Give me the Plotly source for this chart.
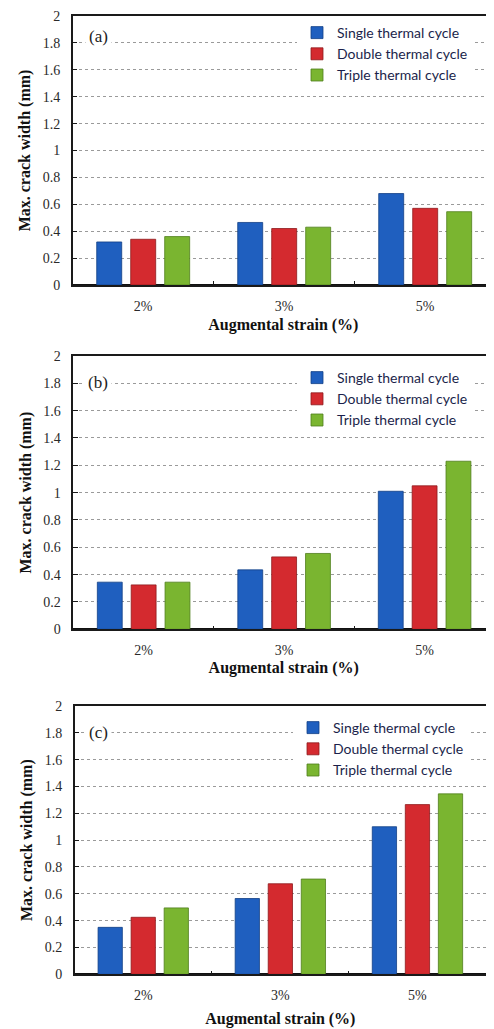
import plotly.graph_objects as go

categories = ["2%", "3%", "5%"]
series_names = ["Single thermal cycle", "Double thermal cycle", "Triple thermal cycle"]

a_single = [0.32, 0.465, 0.68]
a_double = [0.34, 0.42, 0.57]
a_triple = [0.36, 0.43, 0.545]

b_single = [0.345, 0.435, 1.01]
b_double = [0.325, 0.53, 1.05]
b_triple = [0.345, 0.555, 1.23]

c_single = [0.35, 0.565, 1.10]
c_double = [0.425, 0.675, 1.265]
c_triple = [0.495, 0.71, 1.345]

panel_labels = ["(a)", "(b)", "(c)"]
y_ticks = [0, 0.2, 0.4, 0.6, 0.8, 1, 1.2, 1.4, 1.6, 1.8, 2]

colors = ["#1f5fbf", "#d42a2f", "#7ab530"]
edge_colors = ["#123f85", "#8e1a1d", "#4f7d1c"]

# the page body adds an 8px offset; the figure is sized to fill the rest of the window
OFF = 8
W, H = 494 - OFF, 1029 - OFF
panels = [
    dict(data=[a_single, a_double, a_triple], top=16, bottom=285, left=72.7, right=494, xr=[-0.5, 2.488], mirror_y=False,
         leg_top=17, leg_left=297, title_standoff=6, label_y=37),
    dict(data=[b_single, b_double, b_triple], top=356, bottom=629.3, left=73.4, right=494, xr=[-0.5, 2.494], mirror_y=False,
         leg_top=362, leg_left=297, title_standoff=5, label_y=382),
    dict(data=[c_single, c_double, c_triple], top=706, bottom=974.3, left=74.7, right=486, xr=[-0.5, 2.5], mirror_y=True,
         leg_top=712, leg_left=293, title_standoff=11, label_y=732),
]

serif = "Liberation Serif, Times New Roman, serif"
fig = go.Figure()
layout = dict(
    width=W, height=H, margin=dict(l=0, r=0, t=0, b=0, autoexpand=False),
    paper_bgcolor="white", plot_bgcolor="white",
    barmode="group", bargap=0.277, bargroupgap=0.265,
    font=dict(family=serif, color="#222222", size=14),
    annotations=[],
)

def px(x):
    return (x - OFF) / W

def py(y):
    return 1 - (y - OFF) / H

for i, p in enumerate(panels):
    sfx = "" if i == 0 else str(i + 1)
    legname = "legend" + sfx
    for j, name in enumerate(series_names):
        fig.add_trace(go.Bar(
            x=categories, y=p["data"][j], name=name,
            marker=dict(color=colors[j], line=dict(color=edge_colors[j], width=0.8)),
            xaxis="x" + sfx, yaxis="y" + sfx,
            legend=legname, legendgroup=f"{i}-{j}", showlegend=True,
        ))
    ydom = [py(p["bottom"]), py(p["top"])]
    xdom = [px(p["left"]), min(1, px(p["right"]))]
    layout["xaxis" + sfx] = dict(
        domain=xdom, anchor="y" + sfx, range=p["xr"], type="category",
        showline=True, linecolor="#1a1a1a", linewidth=1.5, mirror=True,
        ticks="inside", ticklen=4, tickcolor="#1a1a1a", tickson="boundaries",
        showgrid=False, ticklabelstandoff=7, automargin=False,
        tickfont=dict(family=serif, size=14, color="#2a2a2a"),
        title=dict(text="<b>Augmental strain (%)</b>", standoff=p["title_standoff"],
                   font=dict(family=serif, size=16, color="#111111")),
        fixedrange=True,
    )
    layout["yaxis" + sfx] = dict(
        domain=ydom, anchor="x" + sfx, range=[0, 2], tickvals=y_ticks,
        showline=True, linecolor="#1a1a1a", linewidth=1.5, mirror=p["mirror_y"],
        ticks="inside", ticklen=5, tickcolor="#1a1a1a",
        showgrid=True, gridcolor="#9a9a9a", griddash="dot", gridwidth=1,
        zeroline=True, zerolinecolor="#111111", zerolinewidth=2.5,
        ticklabelstandoff=8, automargin=False, ticklabeloverflow="allow",
        tickfont=dict(family=serif, size=14, color="#2a2a2a"),
        title=dict(text="<b>Max. crack width (mm)</b>", standoff=8,
                   font=dict(family=serif, size=16, color="#111111")),
        fixedrange=True,
    )
    layout[legname] = dict(
        x=px(p["leg_left"]), y=py(p["leg_top"]), xanchor="left", yanchor="top",
        bgcolor="white", borderwidth=0, tracegroupgap=0,
        font=dict(family="Lato, Open Sans, sans-serif", size=14, color="#1b1f4b"),
        itemclick=False, itemdoubleclick=False,
    )
    layout["annotations"].append(dict(
        text=panel_labels[i], x=px(98), y=py(p["label_y"]), xref="paper", yref="paper",
        xanchor="center", yanchor="middle",
        showarrow=False, font=dict(family=serif, size=17, color="#222222"),
        bgcolor="white", borderpad=3,
    ))

fig.update_layout(**layout)
fig.write_html("out.html")
